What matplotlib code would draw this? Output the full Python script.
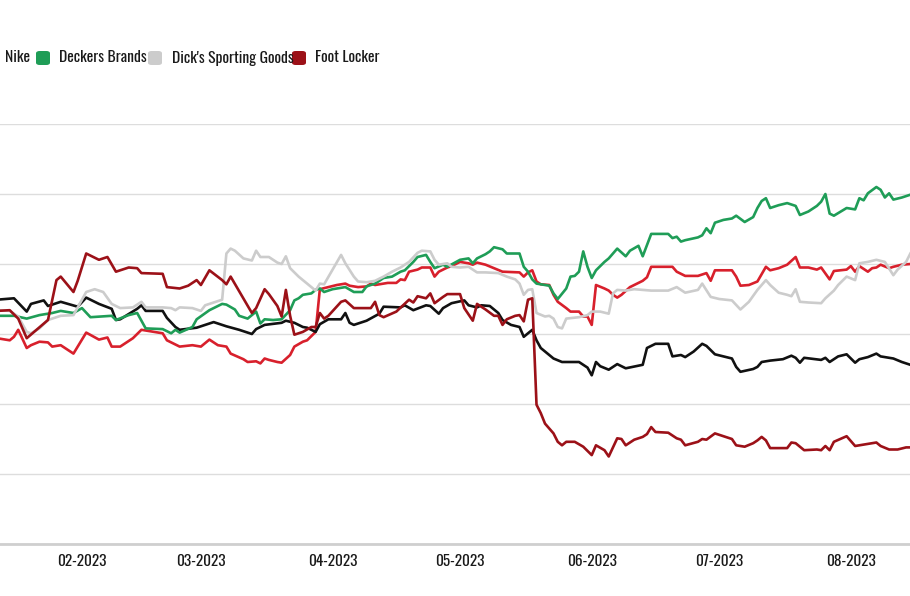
import matplotlib
matplotlib.use("Agg")
import matplotlib.pyplot as plt
import matplotlib.dates as mdates
from matplotlib.patches import FancyBboxPatch
import pandas as pd

# ---------------- data (percent change) ----------------
lulu_dates = ["2023-01-12","2023-01-15","2023-01-16","2023-01-17","2023-01-19","2023-01-20","2023-01-22","2023-01-24","2023-01-25","2023-01-27","2023-01-30",
"2023-02-02","2023-02-05","2023-02-07","2023-02-08","2023-02-10","2023-02-13","2023-02-15","2023-02-20","2023-02-21","2023-02-24","2023-02-27",
"2023-03-01","2023-03-03","2023-03-05","2023-03-07","2023-03-08","2023-03-11","2023-03-12","2023-03-14","2023-03-15","2023-03-16","2023-03-17","2023-03-19","2023-03-20","2023-03-22","2023-03-23","2023-03-25","2023-03-26","2023-03-28","2023-03-29","2023-03-31",
"2023-04-02","2023-04-04","2023-04-05","2023-04-07","2023-04-09","2023-04-10","2023-04-11","2023-04-14","2023-04-16","2023-04-17","2023-04-18","2023-04-19","2023-04-21","2023-04-22","2023-04-24","2023-04-25","2023-04-26","2023-04-28","2023-04-29",
"2023-05-01","2023-05-03","2023-05-04","2023-05-05","2023-05-07","2023-05-09","2023-05-11","2023-05-15","2023-05-16","2023-05-17","2023-05-18","2023-05-19","2023-05-20","2023-05-22","2023-05-23","2023-05-24","2023-05-26","2023-05-27","2023-05-29","2023-05-30","2023-05-31",
"2023-06-01","2023-06-02","2023-06-04","2023-06-05","2023-06-06","2023-06-07","2023-06-08","2023-06-10","2023-06-13","2023-06-14","2023-06-15","2023-06-20","2023-06-21","2023-06-23","2023-06-26","2023-06-28","2023-06-29","2023-06-30",
"2023-07-04","2023-07-05","2023-07-06","2023-07-08","2023-07-10","2023-07-12","2023-07-13","2023-07-15","2023-07-17","2023-07-19","2023-07-20","2023-07-22","2023-07-24","2023-07-25","2023-07-27","2023-07-28","2023-07-31",
"2023-08-01","2023-08-02","2023-08-03","2023-08-05","2023-08-06","2023-08-07","2023-08-08","2023-08-10","2023-08-11","2023-08-13","2023-08-15"]
lulu_values = [-0.6,-0.9,-0.4,0.6,-2.0,-1.6,-1.1,-1.2,-1.8,-1.6,-2.8,
0.2,-0.8,-0.5,-1.8,-1.8,-0.6,0.6,0.1,-0.9,-1.8,-1.6,
-1.8,-0.8,-1.6,-1.8,-2.8,-3.6,-4.0,-3.9,-4.2,-3.5,-3.7,-4.0,-4.1,-3.0,-1.8,-1.1,-0.9,0.3,6.4,6.7,
7.0,7.2,6.9,6.7,6.8,7.2,7.0,7.3,7.3,7.8,7.7,8.9,9.2,9.5,9.5,8.2,8.9,9.5,9.7,
10.3,10.1,9.9,10.2,9.9,9.4,8.9,8.8,8.2,8.8,9.1,7.5,7.1,7.0,5.6,4.6,3.7,3.2,3.2,2.5,2.5,
1.3,7.0,6.5,6.2,5.6,5.2,5.6,6.7,7.6,8.1,9.6,9.6,8.9,8.3,8.3,8.7,7.6,9.1,
9.1,8.2,6.9,7.0,7.5,9.6,9.1,9.4,9.9,11.0,9.5,9.5,9.2,9.5,7.8,9.0,9.2,
9.7,8.9,9.7,8.9,9.4,9.5,9.9,9.4,9.6,9.9,10.0]

nike_dates = ["2023-01-12","2023-01-16","2023-01-19","2023-01-20","2023-01-23","2023-01-24","2023-01-27","2023-01-31",
"2023-02-02","2023-02-05","2023-02-08","2023-02-09","2023-02-10","2023-02-14","2023-02-15","2023-02-16","2023-02-20","2023-02-21","2023-02-23","2023-02-24","2023-02-28",
"2023-03-04","2023-03-07","2023-03-10","2023-03-13","2023-03-14","2023-03-16","2023-03-20","2023-03-21","2023-03-23","2023-03-25","2023-03-26","2023-03-28","2023-03-29","2023-03-31",
"2023-04-03","2023-04-04","2023-04-05","2023-04-06","2023-04-09","2023-04-12","2023-04-13","2023-04-17","2023-04-18","2023-04-20","2023-04-23","2023-04-24","2023-04-26","2023-04-27","2023-04-29",
"2023-05-02","2023-05-03","2023-05-05","2023-05-06","2023-05-08","2023-05-10","2023-05-11","2023-05-13","2023-05-15","2023-05-16","2023-05-18","2023-05-19","2023-05-20","2023-05-23","2023-05-25","2023-05-29","2023-05-31",
"2023-06-01","2023-06-02","2023-06-03","2023-06-05","2023-06-07","2023-06-09","2023-06-13","2023-06-14","2023-06-16","2023-06-19","2023-06-20","2023-06-22","2023-06-23","2023-06-25","2023-06-27","2023-06-28","2023-06-30",
"2023-07-04","2023-07-05","2023-07-06","2023-07-09","2023-07-10","2023-07-11","2023-07-13","2023-07-16","2023-07-18","2023-07-19","2023-07-20","2023-07-21","2023-07-25","2023-07-26","2023-07-27","2023-07-29","2023-07-31",
"2023-08-02","2023-08-03","2023-08-05","2023-08-07","2023-08-08","2023-08-11","2023-08-13","2023-08-15"]
nike_values = [4.9,5.1,3.2,4.3,4.8,4.0,4.6,3.9,
5.2,4.3,3.6,2.0,2.1,3.6,4.1,3.3,3.3,2.3,1.0,0.6,0.9,
1.7,1.1,0.6,0.0,0.7,1.3,1.6,1.9,1.6,1.0,0.9,0.3,1.4,2.1,
2.1,3.0,1.6,1.3,1.9,2.9,3.9,3.8,4.1,3.4,4.1,4.0,2.9,3.7,4.4,
4.8,4.1,3.8,4.1,4.0,3.0,2.0,1.3,1.0,-0.4,0.6,-0.9,-2.0,-3.5,-4.0,-4.0,-4.8,
-5.9,-4.0,-4.6,-5.1,-4.3,-4.9,-4.4,-2.0,-1.4,-1.4,-3.2,-3.0,-3.3,-2.5,-1.4,-1.7,-2.9,
-3.5,-4.7,-5.4,-5.0,-4.7,-4.0,-3.8,-3.6,-3.1,-3.4,-4.1,-3.4,-3.7,-3.4,-4.0,-3.2,-2.9,
-4.1,-3.6,-3.3,-2.8,-3.2,-3.5,-4.0,-4.4]

deckers_dates = ["2023-01-12","2023-01-16","2023-01-19","2023-01-22","2023-01-25","2023-01-27","2023-01-30",
"2023-02-01","2023-02-03","2023-02-08","2023-02-09","2023-02-12","2023-02-14","2023-02-16","2023-02-20","2023-02-22","2023-02-23","2023-02-24","2023-02-27","2023-02-28",
"2023-03-03","2023-03-06","2023-03-07","2023-03-09","2023-03-10","2023-03-12","2023-03-14","2023-03-15","2023-03-16","2023-03-18","2023-03-20","2023-03-22","2023-03-23","2023-03-24","2023-03-25","2023-03-27","2023-03-28","2023-03-29","2023-03-30",
"2023-04-01","2023-04-04","2023-04-06","2023-04-08","2023-04-09","2023-04-11","2023-04-13","2023-04-15","2023-04-17","2023-04-18","2023-04-20","2023-04-21","2023-04-23","2023-04-24","2023-04-25","2023-04-27","2023-04-28",
"2023-05-01","2023-05-03","2023-05-04","2023-05-05","2023-05-07","2023-05-08","2023-05-09","2023-05-11","2023-05-12","2023-05-15","2023-05-16","2023-05-17","2023-05-18","2023-05-19","2023-05-21","2023-05-22","2023-05-23","2023-05-24","2023-05-26","2023-05-27","2023-05-28","2023-05-29","2023-05-30","2023-05-31",
"2023-06-01","2023-06-02","2023-06-04","2023-06-05","2023-06-07","2023-06-09","2023-06-10","2023-06-12","2023-06-13","2023-06-14","2023-06-15","2023-06-19","2023-06-20","2023-06-21","2023-06-22","2023-06-23","2023-06-26","2023-06-27","2023-06-28","2023-06-29","2023-06-30",
"2023-07-02","2023-07-04","2023-07-05","2023-07-07","2023-07-09","2023-07-10","2023-07-11","2023-07-12","2023-07-13","2023-07-15","2023-07-17","2023-07-19","2023-07-20","2023-07-22","2023-07-24","2023-07-25","2023-07-26","2023-07-27","2023-07-28","2023-07-31",
"2023-08-02","2023-08-03","2023-08-04","2023-08-05","2023-08-07","2023-08-08","2023-08-09","2023-08-10","2023-08-11","2023-08-13","2023-08-15"]
deckers_values = [2.6,2.6,2.2,2.7,3.0,3.3,3.0,
3.7,2.4,2.6,2.0,2.7,3.0,0.8,0.7,0.1,0.6,0.2,1.0,2.1,
3.4,4.3,4.2,3.5,2.6,2.2,3.2,1.5,2.1,2.0,2.1,3.4,4.8,5.1,5.6,5.8,6.3,6.5,6.0,
6.4,6.7,6.0,6.0,6.8,7.2,8.0,8.2,8.9,9.1,10.3,11.0,11.3,10.3,9.4,9.9,9.6,
10.6,10.8,10.1,10.8,11.4,11.8,12.4,12.1,11.5,11.5,9.6,8.9,7.8,7.2,7.0,6.9,5.8,5.0,6.5,8.2,8.3,8.9,11.8,9.6,
8.0,9.1,10.3,10.8,12.2,11.1,11.9,12.6,11.1,12.7,14.3,14.3,13.7,13.9,13.2,13.4,13.8,14.1,15.1,14.4,15.9,
16.3,16.5,16.9,16.0,16.7,18.0,19.0,19.4,18.0,18.4,18.7,18.3,17.0,17.5,18.3,18.9,20.0,17.2,16.9,18.0,
17.8,19.4,19.1,20.1,21.0,20.6,19.5,20.1,19.2,19.5,19.9]

dicks_dates = ["2023-01-12","2023-01-15","2023-01-17","2023-01-19","2023-01-20","2023-01-22","2023-01-24","2023-01-27","2023-01-30",
"2023-02-02","2023-02-04","2023-02-06","2023-02-08","2023-02-10","2023-02-13","2023-02-15","2023-02-16","2023-02-20","2023-02-22","2023-02-23","2023-02-24","2023-02-27",
"2023-03-01","2023-03-02","2023-03-05","2023-03-06","2023-03-07","2023-03-08","2023-03-09","2023-03-11","2023-03-13","2023-03-14","2023-03-15","2023-03-17","2023-03-19","2023-03-20","2023-03-21","2023-03-22","2023-03-24","2023-03-26","2023-03-28","2023-03-29","2023-03-30",
"2023-04-01","2023-04-03","2023-04-04","2023-04-06","2023-04-07","2023-04-09","2023-04-10","2023-04-11","2023-04-13","2023-04-15","2023-04-17","2023-04-19","2023-04-21","2023-04-22","2023-04-24","2023-04-25","2023-04-26","2023-04-28","2023-04-29",
"2023-05-01","2023-05-03","2023-05-05","2023-05-07","2023-05-10","2023-05-12","2023-05-14","2023-05-15","2023-05-16","2023-05-17","2023-05-18","2023-05-19","2023-05-21","2023-05-22","2023-05-23","2023-05-24","2023-05-25","2023-05-26","2023-05-29","2023-05-31",
"2023-06-01","2023-06-03","2023-06-05","2023-06-06","2023-06-07","2023-06-09","2023-06-11","2023-06-15","2023-06-19","2023-06-21","2023-06-23","2023-06-26","2023-06-27","2023-06-29",
"2023-07-01","2023-07-04","2023-07-06","2023-07-08","2023-07-10","2023-07-12","2023-07-13","2023-07-15","2023-07-17","2023-07-18","2023-07-19","2023-07-20","2023-07-22","2023-07-25","2023-07-26","2023-07-28","2023-07-29","2023-07-31",
"2023-08-02","2023-08-03","2023-08-05","2023-08-07","2023-08-09","2023-08-11","2023-08-12","2023-08-14","2023-08-15"]
dicks_values = [3.4,3.3,2.5,0.3,0.1,0.8,2.0,2.6,2.7,
6.0,6.4,6.0,4.3,3.7,3.8,4.6,3.8,3.8,3.7,3.4,3.8,3.7,
3.3,4.1,4.7,4.9,11.5,12.2,11.9,10.8,10.5,11.9,11.0,11.0,10.2,10.0,11.1,9.4,8.2,7.2,6.2,7.2,7.1,
9.2,11.3,10.1,8.2,7.5,7.4,7.5,7.6,8.2,8.9,9.5,10.3,11.6,11.9,11.8,10.6,9.9,10.1,9.6,
9.5,9.6,8.8,8.8,8.7,8.2,7.8,7.2,5.6,6.3,6.4,3.0,2.5,2.6,2.2,1.0,0.8,2.2,2.4,2.7,
3.2,3.2,2.9,5.8,6.3,6.2,6.4,6.2,6.2,6.7,5.9,6.3,7.2,5.3,
5.0,4.8,3.5,4.6,6.3,7.7,7.0,5.9,5.6,5.4,6.4,4.6,4.5,4.4,5.1,6.2,7.0,8.2,
7.7,10.1,10.3,10.6,10.3,8.4,9.2,10.3,11.5]

footlocker_dates = ["2023-01-12","2023-01-15","2023-01-17","2023-01-19","2023-01-24","2023-01-26","2023-01-27","2023-01-30","2023-01-31",
"2023-02-02","2023-02-05","2023-02-07","2023-02-09","2023-02-12","2023-02-14","2023-02-15","2023-02-20","2023-02-21","2023-02-24","2023-02-26","2023-02-27","2023-02-28",
"2023-03-01","2023-03-03","2023-03-06","2023-03-07","2023-03-08","2023-03-13","2023-03-14","2023-03-16","2023-03-17","2023-03-19","2023-03-20","2023-03-21","2023-03-22","2023-03-23","2023-03-25","2023-03-27","2023-03-28","2023-03-29","2023-03-30","2023-03-31",
"2023-04-03","2023-04-04","2023-04-06","2023-04-10","2023-04-11","2023-04-12","2023-04-13","2023-04-16","2023-04-19","2023-04-20","2023-04-21","2023-04-23","2023-04-24","2023-04-25","2023-04-27","2023-04-28",
"2023-05-01","2023-05-02","2023-05-04","2023-05-05","2023-05-07","2023-05-09","2023-05-10","2023-05-11","2023-05-12","2023-05-14","2023-05-15","2023-05-16","2023-05-17","2023-05-18","2023-05-19","2023-05-20","2023-05-21","2023-05-23","2023-05-24","2023-05-25","2023-05-26","2023-05-28","2023-05-30",
"2023-06-01","2023-06-02","2023-06-04","2023-06-05","2023-06-07","2023-06-08","2023-06-09","2023-06-11","2023-06-13","2023-06-14","2023-06-15","2023-06-16","2023-06-19","2023-06-21","2023-06-22","2023-06-23","2023-06-26","2023-06-27","2023-06-28","2023-06-30",
"2023-07-02","2023-07-04","2023-07-05","2023-07-07","2023-07-09","2023-07-10","2023-07-11","2023-07-12","2023-07-13","2023-07-17","2023-07-18","2023-07-19","2023-07-21","2023-07-24","2023-07-25","2023-07-26","2023-07-27","2023-07-28","2023-07-31",
"2023-08-02","2023-08-05","2023-08-07","2023-08-08","2023-08-10","2023-08-12","2023-08-14","2023-08-15"]
footlocker_values = [3.3,3.4,2.2,-0.6,2.0,7.7,8.2,6.0,7.6,
11.5,10.6,11.0,8.9,9.5,9.4,8.7,8.6,6.7,6.5,6.9,7.3,7.7,
7.0,9.1,7.7,7.1,8.2,3.0,3.7,6.4,5.7,4.0,2.5,6.3,2.6,-0.1,0.3,1.0,1.0,3.0,2.2,2.6,
4.6,4.8,3.7,3.7,4.6,2.7,2.4,3.2,4.9,4.5,5.4,5.1,5.8,4.4,5.3,5.7,
5.7,3.7,1.9,4.3,3.5,2.6,2.6,1.3,2.1,2.6,2.7,1.8,4.9,5.1,-10.1,-11.3,-12.8,-14.2,-15.4,-15.9,-15.4,-15.4,-16.1,
-17.3,-15.9,-16.6,-17.5,-14.9,-15.0,-15.9,-15.1,-14.7,-14.3,-13.3,-14.0,-14.1,-14.9,-15.1,-15.9,-15.4,-15.0,-15.1,-14.2,
-14.6,-15.0,-15.9,-16.1,-15.6,-15.2,-14.7,-15.2,-16.3,-16.3,-15.5,-15.6,-16.6,-16.5,-16.6,-16.0,-16.6,-15.4,-14.6,
-16.0,-15.7,-15.5,-16.0,-16.5,-16.5,-16.2,-16.2]

series_names = ["Lululemon", "Nike", "Deckers Brands", "Dick's Sporting Goods", "Foot Locker"]
series_colors = ["#d8202c", "#111111", "#1f9d57", "#cccccc", "#9c1118"]
series_dates = [lulu_dates, nike_dates, deckers_dates, dicks_dates, footlocker_dates]
series_values = [lulu_values, nike_values, deckers_values, dicks_values, footlocker_values]

tick_months = ["2023-02-01", "2023-03-01", "2023-04-01", "2023-05-01", "2023-06-01", "2023-07-01", "2023-08-01"]

FONT = ["Oswald", "DejaVu Sans"]

# ---------------- figure ----------------
W, H = 910, 596
fig = plt.figure(figsize=(W / 100, H / 100), dpi=100)
fig.patch.set_facecolor("white")
ax = fig.add_axes([0, (H - 544) / H, 1, (544 - 124) / H])

for n, c, d, v in zip(series_names, series_colors, series_dates, series_values):
    ax.plot(pd.to_datetime(d), v, color=c, lw=1.9, solid_joinstyle="round", label=n, zorder=3)

ax.set_xlim(pd.Timestamp("2023-01-12 17:00"), pd.Timestamp("2023-08-14 22:00"))
ax.set_ylim(-30, 30)
ax.set_yticks([-30, -20, -10, 0, 10, 20, 30])
ax.yaxis.grid(True, color="#dddddd", lw=1.0)
ax.set_axisbelow(True)
for s in ["left", "right", "top"]:
    ax.spines[s].set_visible(False)
ax.spines["bottom"].set_color("#cfcfcf")
ax.spines["bottom"].set_linewidth(2)
ax.tick_params(axis="y", length=0, labelleft=False)
ax.tick_params(axis="x", length=0, pad=7, labelsize=11, labelcolor="#1a1a1a")
ax.set_xticks(pd.to_datetime(tick_months))
ax.xaxis.set_major_formatter(mdates.DateFormatter("%m-%Y"))
for lbl in ax.get_xticklabels():
    lbl.set_fontfamily(FONT)

# ---------------- legend (manual; the first entries lie beyond the left edge) ----------------
leg_sq_x = [None, None, 36, 148, 292]
leg_tx_x = [None, 5, 59, 172, 315]
for n, c, sx, tx in zip(series_names, series_colors, leg_sq_x, leg_tx_x):
    if sx is not None:
        fig.patches.append(FancyBboxPatch((sx / W, 1 - 65 / H), 14 / W, 14 / H,
                                          boxstyle="round,pad=0,rounding_size=0.004",
                                          transform=fig.transFigure, facecolor=c, edgecolor="none"))
    if tx is not None:
        fig.text(tx / W, 1 - 58 / H, n, ha="left", va="center", fontsize=11.2,
                 color="#1a1a1a", fontfamily=FONT)

fig.savefig("out.png", dpi=100, facecolor="white")
